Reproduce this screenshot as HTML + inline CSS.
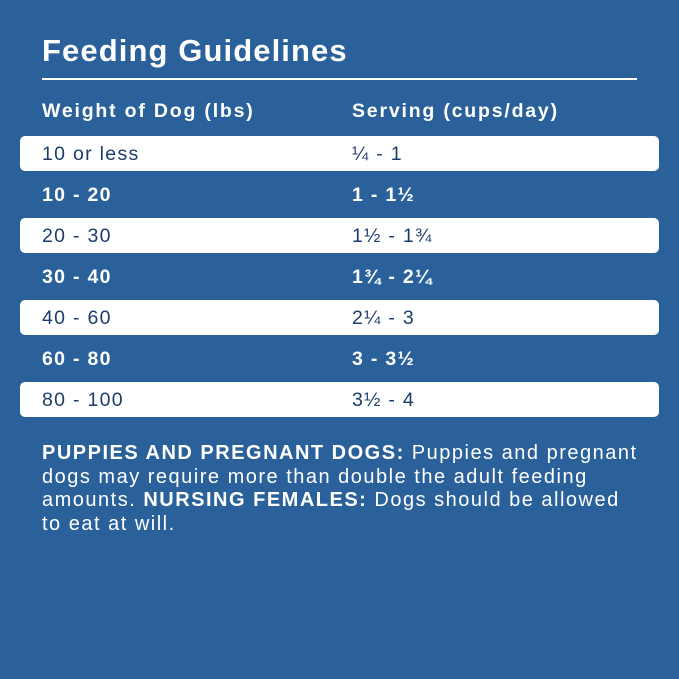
<!DOCTYPE html>
<html><head><style>
body{margin:0;width:679px;height:679px;background:#2b619a;font-family:"Liberation Sans",sans-serif;color:#fff;position:relative;overflow:hidden}
.t{position:absolute;left:42px;top:33px;font-size:31px;font-weight:bold;letter-spacing:1.1px}
.hr{position:absolute;left:42px;top:78px;width:595px;height:2px;background:#fff}
.h{position:absolute;top:100px;font-size:19.5px;font-weight:bold;letter-spacing:1.8px}
.row{position:absolute;left:20px;width:639px;height:35px;border-radius:5px}
.row.w{background:#fff;color:#1c3d6b}
.row span{position:absolute;top:7px;font-size:19.5px;letter-spacing:1.3px}
.row.d span{font-weight:bold}
.p{position:absolute;left:42px;top:442px;width:630px;font-size:20px;line-height:23.7px;letter-spacing:1.5px;white-space:nowrap}
</style></head><body>
<div class="t">Feeding Guidelines</div>
<div class="hr"></div>
<div class="h" style="left:42px">Weight of Dog (lbs)</div>
<div class="h" style="left:352px">Serving (cups/day)</div>
<div class="row w" style="top:136px"><span style="left:22px">10 or less</span><span style="left:332px">¼ - 1</span></div>
<div class="row d" style="top:177px"><span style="left:22px">10 - 20</span><span style="left:332px">1 - 1½</span></div>
<div class="row w" style="top:218px"><span style="left:22px">20 - 30</span><span style="left:332px">1½ - 1¾</span></div>
<div class="row d" style="top:259px"><span style="left:22px">30 - 40</span><span style="left:332px">1¾ - 2¼</span></div>
<div class="row w" style="top:300px"><span style="left:22px">40 - 60</span><span style="left:332px">2¼ - 3</span></div>
<div class="row d" style="top:341px"><span style="left:22px">60 - 80</span><span style="left:332px">3 - 3½</span></div>
<div class="row w" style="top:382px"><span style="left:22px">80 - 100</span><span style="left:332px">3½ - 4</span></div>
<div class="p"><b>PUPPIES AND PREGNANT DOGS:</b> Puppies and pregnant<br>dogs may require more than double the adult feeding<br>amounts. <b>NURSING FEMALES:</b> Dogs should be allowed<br>to eat at will.</div>
</body></html>
